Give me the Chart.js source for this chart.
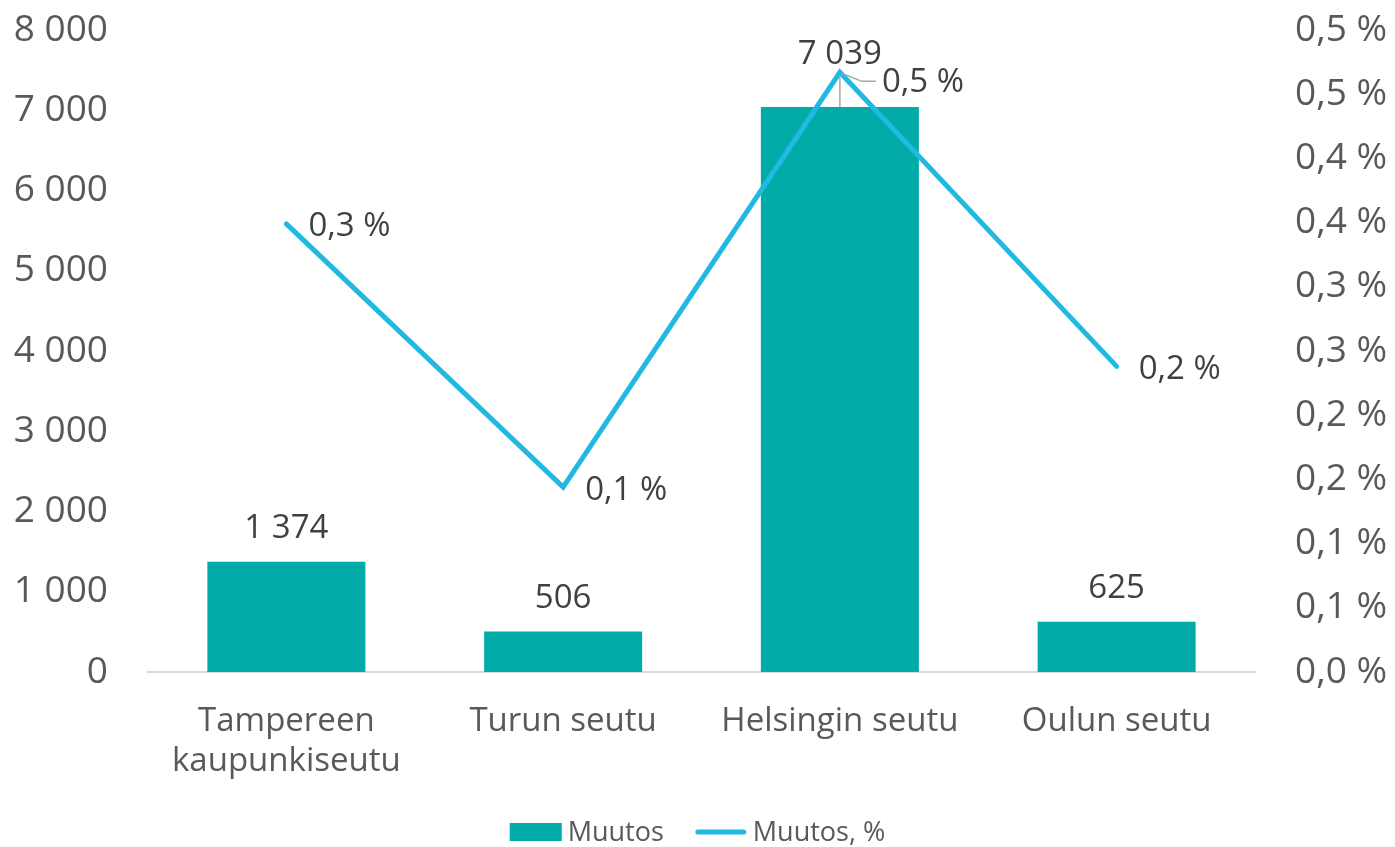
<!DOCTYPE html>
<html>
<head>
<meta charset="utf-8">
<script src="https://cdn.jsdelivr.net/npm/chart.js@4.4.1/dist/chart.umd.min.js"></script>
<style>
  html, body { margin: 0; padding: 0; background: #fff; }
  #wrap { width: 1395px; height: 847px; position: relative; }
</style>
</head>
<body>
<div id="wrap"><canvas id="c" width="1395" height="847"></canvas></div>
<script>
const categories = [['Tampereen', 'kaupunkiseutu'], 'Turun seutu', 'Helsingin seutu', 'Oulun seutu'];
const muutos = [1374, 506, 7039, 625];
const muutosPct = [0.349, 0.144, 0.467, 0.238];
const leftMax = 8000, leftStep = 1000;
const rightMax = 0.5, rightStep = 0.05;

const FONT = "'Open Sans', 'Noto Sans', sans-serif";
const BAR_COLOR = '#00ABA8';
const LINE_COLOR = '#21B9E1';
const TICK_COLOR = '#595959';
const LABEL_COLOR = '#404040';

function fmtThousands(v) {
  return String(Math.round(v)).replace(/\B(?=(\d{3})+(?!\d))/g, ' ');
}
function fmtPct(v) {
  return (Math.round(v * 10 + 1e-6) / 10).toFixed(1).replace('.', ',') + ' %';
}

const labelPlugin = {
  id: 'labels',
  afterDatasetsDraw(chart) {
    const ctx = chart.ctx;
    ctx.save();
    ctx.fillStyle = LABEL_COLOR;
    ctx.font = "33px " + FONT;
    ctx.textBaseline = 'middle';
    const barMeta = chart.getDatasetMeta(0);
    const lineMeta = chart.getDatasetMeta(1);
    const maxIdx = muutos.indexOf(Math.max(...muutos));
    barMeta.data.forEach((el, i) => {
      ctx.textAlign = 'center';
      let y = el.y - 33;
      if (i === maxIdx) y = el.y - 53;
      ctx.fillText(fmtThousands(muutos[i]), el.x, y);
    });
    lineMeta.data.forEach((el, i) => {
      ctx.textAlign = 'left';
      if (i === maxIdx) {
        ctx.fillText(fmtPct(muutosPct[i]), el.x + 42, el.y + 10);
        ctx.strokeStyle = '#A6A6A6';
        ctx.lineWidth = 1.5;
        ctx.beginPath();
        ctx.moveTo(el.x, barMeta.data[i].y);
        ctx.lineTo(el.x, el.y + 3);
        ctx.stroke();
        ctx.beginPath();
        ctx.moveTo(el.x + 2, el.y + 1);
        ctx.lineTo(el.x + 22, el.y + 9);
        ctx.lineTo(el.x + 36, el.y + 9);
        ctx.stroke();
      } else {
        ctx.fillText(fmtPct(muutosPct[i]), el.x + 22, el.y + 3);
      }
    });
    ctx.restore();
  }
};

const legendPlugin = {
  id: 'customLegend',
  afterDraw(chart) {
    const ctx = chart.ctx;
    ctx.save();
    ctx.font = "27px " + FONT;
    ctx.textBaseline = 'middle';
    ctx.textAlign = 'left';
    const cy = 832;
    const symW = 52, gapText = 6, gapItem = 31;
    const items = chart.data.datasets.map(ds => ({ ds, w: symW + gapText + ctx.measureText(ds.label).width }));
    const total = items.reduce((s, it) => s + it.w, 0) + gapItem * (items.length - 1);
    let x = chart.width / 2 - total / 2;
    items.forEach(it => {
      const ds = it.ds;
      if (ds.type === 'bar') {
        ctx.fillStyle = ds.backgroundColor;
        ctx.fillRect(x, cy - 9, symW, 18);
      } else {
        ctx.strokeStyle = ds.borderColor;
        ctx.lineWidth = 5;
        ctx.lineCap = 'round';
        ctx.beginPath();
        ctx.moveTo(x + 3, cy);
        ctx.lineTo(x + symW - 3, cy);
        ctx.stroke();
      }
      ctx.fillStyle = TICK_COLOR;
      ctx.fillText(ds.label, x + symW + gapText, cy + 1);
      x += it.w + gapItem;
    });
    ctx.restore();
  }
};

new Chart(document.getElementById('c'), {
  data: {
    labels: categories,
    datasets: [
      {
        type: 'bar',
        label: 'Muutos',
        data: muutos,
        backgroundColor: BAR_COLOR,
        yAxisID: 'y',
        order: 2,
        categoryPercentage: 1.0,
        barPercentage: 0.571
      },
      {
        type: 'line',
        label: 'Muutos, %',
        data: muutosPct,
        borderColor: LINE_COLOR,
        backgroundColor: LINE_COLOR,
        borderWidth: 5,
        pointRadius: 0,
        pointHoverRadius: 0,
        tension: 0,
        yAxisID: 'y1',
        order: 1,
        borderCapStyle: 'round'
      }
    ]
  },
  options: {
    responsive: false,
    animation: false,
    devicePixelRatio: 1,
    layout: { padding: { top: 30, left: 0, right: 0, bottom: 45 } },
    plugins: {
      tooltip: { enabled: false },
      legend: { display: false }
    },
    scales: {
      x: {
        grid: { display: false, drawTicks: false },
        border: { display: true, color: '#D9D9D9', width: 2 },
        ticks: { color: TICK_COLOR, font: { family: FONT, size: 33 }, padding: 30, maxRotation: 0 },
        afterFit(scale) { scale.height = 130; scale.paddingLeft = 0; scale.paddingRight = 0; }
      },
      y: {
        position: 'left',
        min: 0, max: leftMax,
        grid: { display: false, drawTicks: false },
        border: { display: false },
        ticks: {
          stepSize: leftStep,
          color: TICK_COLOR,
          font: { family: FONT, size: 37 },
          padding: 40,
          callback: v => fmtThousands(v)
        },
        afterFit(scale) { scale.width = 148; scale.paddingTop = 0; scale.paddingBottom = 0; }
      },
      y1: {
        position: 'right',
        min: 0, max: rightMax,
        grid: { display: false, drawTicks: false },
        border: { display: false },
        ticks: {
          stepSize: rightStep,
          color: TICK_COLOR,
          font: { family: FONT, size: 37 },
          padding: 40,
          callback: v => fmtPct(v)
        },
        afterFit(scale) { scale.width = 140; scale.paddingTop = 0; scale.paddingBottom = 0; }
      }
    }
  },
  plugins: [labelPlugin, legendPlugin]
});
</script>
</body>
</html>
